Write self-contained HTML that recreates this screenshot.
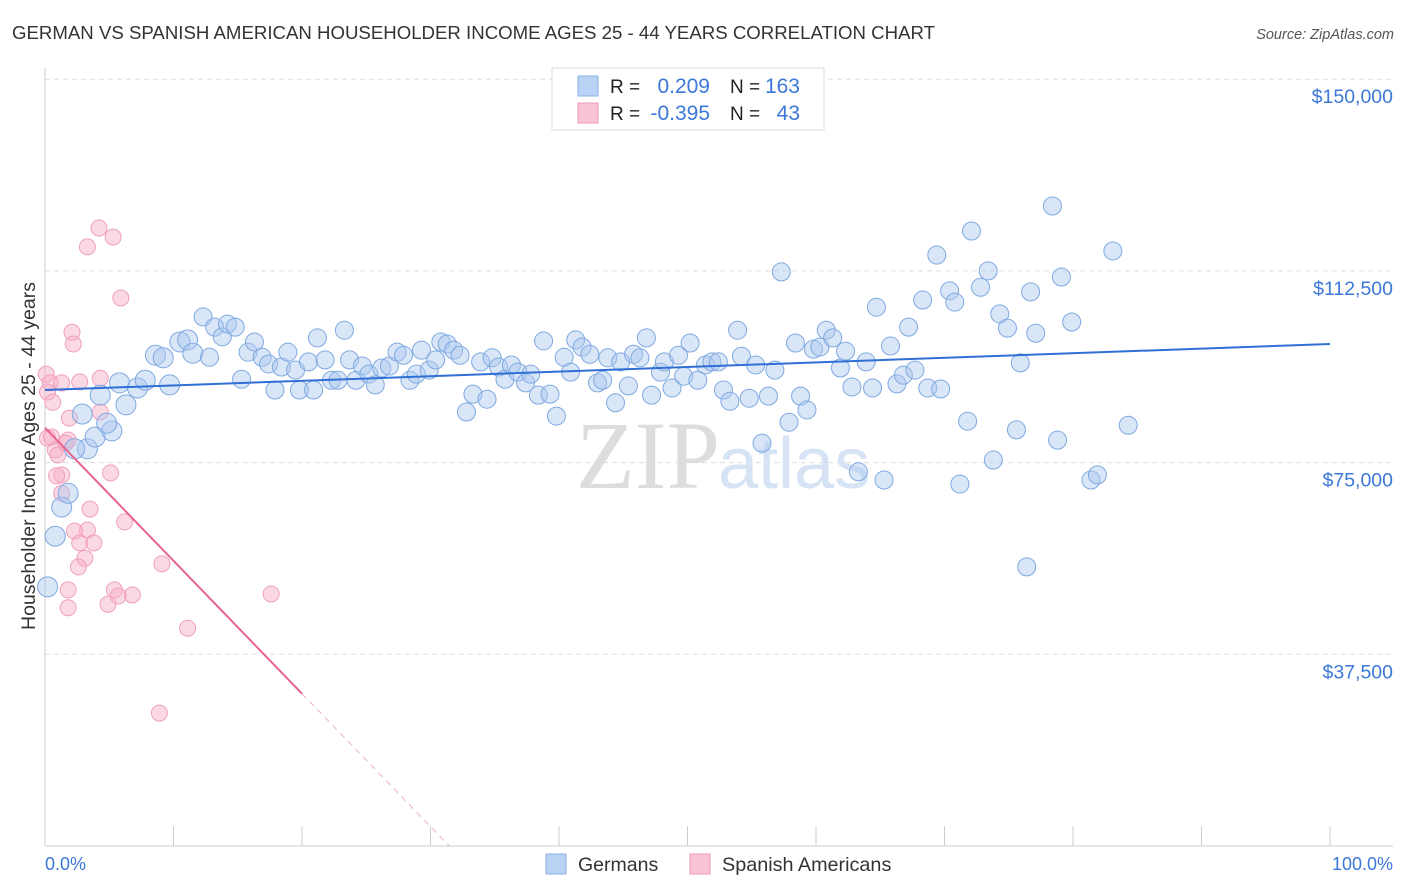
<!DOCTYPE html>
<html><head><meta charset="utf-8"><style>
body{margin:0;background:#fff;font-family:"Liberation Sans",sans-serif;}
svg{display:block}
</style></head><body>
<svg id="chart" width="1406" height="892">
<text x="12" y="39" font-size="18" fill="#333" textLength="923" lengthAdjust="spacingAndGlyphs">GERMAN VS SPANISH AMERICAN HOUSEHOLDER INCOME AGES 25 - 44 YEARS CORRELATION CHART</text>
<text x="1394" y="39" font-size="14.5" fill="#555" font-style="italic" text-anchor="end">Source: ZipAtlas.com</text>
<g id="grid"></g>
<text x="720" y="488" font-size="96" fill="#ddd" text-anchor="end" font-family="Liberation Serif,serif">ZIP</text>
<text x="718" y="488" font-size="72" fill="#d5e3f5">atlas</text>
<g id="pts"></g>
<g id="trend"></g>
<text x="35" y="456" font-size="19.5" fill="#333" text-anchor="middle" transform="rotate(-90 35 456)">Householder Income Ages 25 - 44 years</text>
<text x="45" y="870" font-size="18" fill="#3b78d8">0.0%</text>
<text x="1393" y="870" font-size="18" fill="#3b78d8" text-anchor="end">100.0%</text>
<g>
<rect x="552" y="68" width="272" height="62" fill="#fff" stroke="#ddd"/>
<rect x="578" y="76" width="20" height="20" fill="#b9d3f5" stroke="#8ab2e8"/>
<rect x="578" y="103" width="20" height="20" fill="#f9c5d4" stroke="#ee9ab3"/>
<text x="610" y="93" font-size="19" fill="#222">R =</text><text x="710" y="93" font-size="21" fill="#3b78d8" text-anchor="end">0.209</text>
<text x="730" y="93" font-size="19" fill="#222">N =</text><text x="800" y="93" font-size="21" fill="#3b78d8" text-anchor="end">163</text>
<text x="610" y="120" font-size="19" fill="#222">R =</text><text x="710" y="120" font-size="21" fill="#3b78d8" text-anchor="end">-0.395</text>
<text x="730" y="120" font-size="19" fill="#222">N =</text><text x="800" y="120" font-size="21" fill="#3b78d8" text-anchor="end">43</text>
</g>
<g>
<rect x="546" y="854" width="20" height="20" fill="#b9d3f5" stroke="#8ab2e8"/>
<text x="578" y="871" font-size="19.5" fill="#333">Germans</text>
<rect x="690" y="854" width="20" height="20" fill="#f9c5d4" stroke="#ee9ab3"/>
<text x="722" y="871" font-size="19.8" fill="#333">Spanish Americans</text>
</g>
</svg>
<script>
const yTicks=[37500,75000,112500,150000];
const yTickLabels=["$37,500","$75,000","$112,500","$150,000"];
const xTicks=[0,10,20,30,40,50,60,70,80,90,100];
const germanX=[0.2,0.8,1.3,1.8,3.3,2.3,3.9,2.9,5.2,4.8,4.3,6.3,5.8,7.2,7.8,8.6,9.2,9.7,10.5,11.1,11.5,12.3,12.8,13.2,13.8,14.2,14.8,15.3,15.8,16.3,16.9,17.4,17.9,18.4,18.9,19.5,19.8,20.5,20.9,21.2,21.8,22.3,22.8,23.3,23.7,24.2,24.7,25.2,25.7,26.2,26.8,27.4,27.9,28.4,28.9,29.3,29.9,30.4,30.8,31.3,31.8,32.3,32.8,33.3,33.9,34.4,34.8,35.3,35.8,36.3,36.8,37.4,37.8,38.4,38.8,39.3,39.8,40.4,40.9,41.3,41.8,42.4,43.0,43.4,43.8,44.4,44.8,45.4,45.8,46.3,46.8,47.2,47.9,48.2,48.8,49.3,49.7,50.2,50.8,51.4,51.9,52.4,52.8,53.3,53.9,54.2,54.8,55.3,55.8,56.3,56.8,57.3,57.9,58.4,58.8,59.3,59.8,60.3,60.8,61.3,61.9,62.3,62.8,63.3,63.9,64.4,64.7,65.3,65.8,66.3,66.8,67.2,67.7,68.3,68.7,69.4,69.7,70.4,70.8,71.2,71.8,72.1,72.8,73.4,73.8,74.3,74.9,75.6,75.9,76.4,76.7,77.1,78.4,78.8,79.1,79.9,81.4,81.9,83.1,84.3];
const germanY=[50.7,60.6,66.3,69.0,77.7,77.7,80.0,84.5,81.2,82.7,88.2,86.3,90.6,89.6,91.1,96.0,95.5,90.2,98.6,99.0,96.4,103.5,95.6,101.5,99.6,102.1,101.5,91.3,96.6,98.6,95.6,94.3,89.2,93.7,96.6,93.1,89.2,94.7,89.2,99.4,95.1,91.1,91.1,100.9,95.1,91.1,93.9,92.3,90.2,93.5,93.9,96.6,96.0,91.1,92.3,97.0,93.1,95.1,98.6,98.2,97.0,96.0,84.9,88.4,94.7,87.4,95.5,93.7,91.3,94.1,92.7,90.6,92.3,88.2,98.8,88.4,84.1,95.6,92.7,99.0,97.6,96.2,90.6,91.1,95.5,86.7,94.7,90.0,96.2,95.5,99.4,88.2,92.7,94.7,89.6,96.0,91.9,98.4,91.1,94.1,94.7,94.7,89.2,87.0,100.9,95.8,87.6,94.1,78.8,88.0,93.1,112.3,82.9,98.4,88.0,85.3,97.2,97.6,100.9,99.4,93.5,96.8,89.8,73.2,94.7,89.6,105.4,71.6,97.8,90.4,92.1,101.5,93.1,106.8,89.6,115.6,89.4,108.6,106.4,70.8,83.1,120.3,109.3,112.5,75.5,104.1,101.3,81.4,94.5,54.6,108.4,100.3,125.2,79.4,111.3,102.5,71.6,72.6,116.4,82.3];
const spanishX=[0.1,0.4,0.2,0.6,0.2,0.5,0.8,1.0,1.3,0.9,1.3,1.8,1.9,1.6,2.1,2.2,2.7,3.3,4.2,5.3,5.9,4.3,3.5,3.3,2.3,2.7,3.1,2.6,3.8,1.8,1.8,5.1,4.9,6.2,5.4,5.7,6.8,9.1,11.1,8.9,17.6,4.3,1.3];
const spanishY=[92.3,90.6,88.8,86.8,79.8,80.0,77.5,76.5,72.6,72.4,69.0,79.4,83.7,78.8,100.5,98.2,90.8,117.2,120.9,119.1,107.2,91.5,65.9,61.8,61.6,59.3,56.3,54.6,59.3,50.1,46.6,73.0,47.3,63.4,50.1,48.9,49.1,55.2,42.6,26.0,49.3,84.9,90.6];
const germanTrend=[89.2,98.2];
const spanishTrend=[81.8,-2.6];
const NS="http://www.w3.org/2000/svg";
const X0=45,X1=1330,Y0=846,PXK=191.7/37.5;
function sx(p){return X0+(X1-X0)*p/100;}
function sy(k){return Y0-k*PXK;}
function mk(t,a,parent){const e=document.createElementNS(NS,t);for(const k in a)e.setAttribute(k,a[k]);parent.appendChild(e);return e;}
const grid=document.getElementById('grid');
yTicks.forEach((v,i)=>{
 const l=mk('line',{x1:X0,x2:1393,y1:sy(v/1000),y2:sy(v/1000),stroke:'#ddd','stroke-dasharray':'5,4'},grid);
 
 
 const t=mk('text',{x:1393,y:sy(v/1000)+24,'font-size':19.5,fill:'#3b78d8','text-anchor':'end'},grid);
 t.textContent=yTickLabels[i];
 
 
});
const ax=mk('line',{x1:X0,x2:X0,y1:68,y2:Y0,stroke:'#ccc'},grid);


const bx=mk('line',{x1:X0,x2:1393,y1:Y0,y2:Y0,stroke:'#ccc'},grid);


xTicks.forEach(p=>{
 const t=mk('line',{x1:sx(p),x2:sx(p),y1:Y0,y2:Y0-20,stroke:'#ccc'},grid);
 
 
});
const pts=document.getElementById('pts');
spanishX.forEach((p,i)=>{
 const c=mk('circle',{cx:sx(p),cy:sy(spanishY[i]),r:8,fill:'rgba(246,170,196,0.45)',stroke:'#f0a0bb','stroke-width':1},pts);
 
 
});
germanX.forEach((p,i)=>{
 const c=mk('circle',{cx:sx(p),cy:sy(germanY[i]),r:p<12?10:9,fill:'rgba(170,200,240,0.45)',stroke:'#7fa9e0','stroke-width':1},pts);
 
 
});
const tr=document.getElementById('trend');
const g=mk('line',{x1:sx(0),y1:sy(germanTrend[0]),x2:sx(100),y2:sy(germanTrend[1]),stroke:'#2f6fd6','stroke-width':2},tr);


const zeroP=-spanishTrend[0]/spanishTrend[1];
const s1=mk('line',{x1:sx(0),y1:sy(spanishTrend[0]),x2:sx(20),y2:sy(spanishTrend[0]+20*spanishTrend[1]),stroke:'#e8638f','stroke-width':2},tr);


const s2=mk('line',{x1:sx(20),y1:sy(spanishTrend[0]+20*spanishTrend[1]),x2:sx(zeroP),y2:sy(0),stroke:'#eeb0c4','stroke-width':1,'stroke-dasharray':'6,5'},tr);


</script>
</body></html>
